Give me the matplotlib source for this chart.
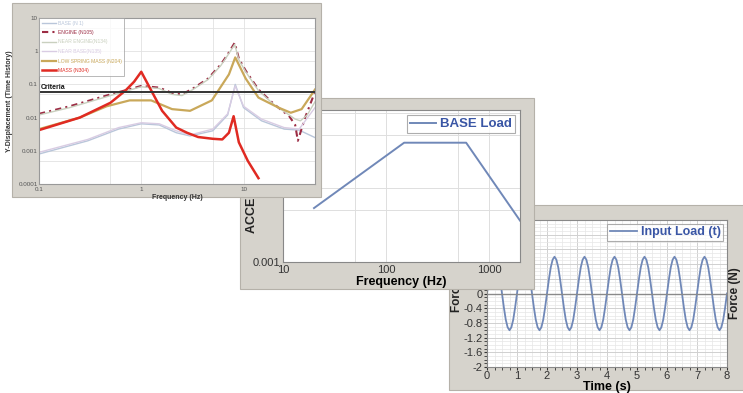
import numpy as np
import matplotlib
matplotlib.use("Agg")
import matplotlib.pyplot as plt
from matplotlib.patches import Rectangle
from matplotlib.ticker import FixedLocator, NullFormatter, FuncFormatter, MultipleLocator

plt.rcParams['font.family'] = ['Liberation Sans', 'DejaVu Sans']

# --- panel 1 : displacement response (log/log) ---
base_f = [0.1, 0.3, 0.6, 1.0, 1.5, 2.2, 3.0, 5.0, 7.0, 8.3, 10, 15, 25, 35, 50]
base_v = [0.0008, 0.002, 0.0045, 0.0065, 0.006, 0.0035, 0.0028, 0.004, 0.012, 0.1, 0.02, 0.008, 0.0045, 0.0042, 0.0025]

engine_f = [0.1, 0.2, 0.5, 1.0, 1.5, 2.0, 2.5, 3.2, 4.5, 6.0, 7.0, 8.2, 9.0, 10.5, 14, 20, 28, 32, 34, 40, 50]
engine_v = [0.013, 0.022, 0.05, 0.09, 0.08, 0.055, 0.05, 0.075, 0.15, 0.4, 0.8, 1.8, 0.6, 0.26, 0.07, 0.025, 0.011, 0.006, 0.002, 0.01, 0.06]

near_engine_f = [0.1, 0.2, 0.5, 1.0, 1.5, 2.0, 2.5, 3.2, 4.5, 6.0, 7.0, 8.2, 9.0, 10.5, 14, 20, 28, 32, 36, 42, 50]
near_engine_v = [0.012, 0.02, 0.046, 0.085, 0.075, 0.05, 0.046, 0.07, 0.14, 0.37, 0.75, 1.6, 0.55, 0.24, 0.065, 0.024, 0.012, 0.009, 0.008, 0.012, 0.03]

near_base_f = [0.1, 0.3, 0.6, 1.0, 1.5, 2.2, 3.0, 5.0, 7.0, 8.3, 10, 15, 25, 35, 50]
near_base_v = [0.0009, 0.0022, 0.005, 0.007, 0.0065, 0.004, 0.003, 0.0045, 0.013, 0.09, 0.022, 0.009, 0.005, 0.0045, 0.02]

spring_f = [0.1, 0.25, 0.46, 0.77, 1.25, 2.0, 3.0, 4.9, 7.2, 8.3, 10.5, 14, 22, 29, 37, 50]
spring_v = [0.0045, 0.01, 0.022, 0.033, 0.033, 0.018, 0.016, 0.033, 0.2, 0.65, 0.15, 0.04, 0.02, 0.014, 0.018, 0.07]

mass_f = [0.1, 0.25, 0.5, 0.7, 0.85, 1.0, 1.25, 1.6, 2.2, 2.8, 3.6, 5.0, 6.2, 7.2, 8.0, 9.0, 11, 14]
mass_v = [0.0042, 0.01, 0.028, 0.065, 0.12, 0.24, 0.066, 0.016, 0.005, 0.0035, 0.0026, 0.0023, 0.0022, 0.0035, 0.011, 0.0018, 0.0005, 0.00015]

criteria = 0.06

# --- panel 2 : base load spectrum ---
load_f = [20, 150, 600, 2000]
load_accel = [0.0053, 0.04, 0.04, 0.0036]

# --- panel 3 : input load time history (1/16 s samples) ---
input_load = [
    0.0, 0.38, 0.71, 0.92, 1.0, 0.92, 0.71, 0.38, 0.0, -0.38, -0.71, -0.92, -1.0, -0.92, -0.71, -0.38,
    0.0, 0.38, 0.71, 0.92, 1.0, 0.92, 0.71, 0.38, 0.0, -0.38, -0.71, -0.92, -1.0, -0.92, -0.71, -0.38,
    0.0, 0.38, 0.71, 0.92, 1.0, 0.92, 0.71, 0.38, 0.0, -0.38, -0.71, -0.92, -1.0, -0.92, -0.71, -0.38,
    0.0, 0.38, 0.71, 0.92, 1.0, 0.92, 0.71, 0.38, 0.0, -0.38, -0.71, -0.92, -1.0, -0.92, -0.71, -0.38,
    0.0, 0.38, 0.71, 0.92, 1.0, 0.92, 0.71, 0.38, 0.0, -0.38, -0.71, -0.92, -1.0, -0.92, -0.71, -0.38,
    0.0, 0.38, 0.71, 0.92, 1.0, 0.92, 0.71, 0.38, 0.0, -0.38, -0.71, -0.92, -1.0, -0.92, -0.71, -0.38,
    0.0, 0.38, 0.71, 0.92, 1.0, 0.92, 0.71, 0.38, 0.0, -0.38, -0.71, -0.92, -1.0, -0.92, -0.71, -0.38,
    0.0, 0.38, 0.71, 0.92, 1.0, 0.92, 0.71, 0.38, 0.0, -0.38, -0.71, -0.92, -1.0, -0.92, -0.71, -0.38,
    0.0,
]
time_s = np.linspace(0, 8, len(input_load))

W, H = 743, 393
fig = plt.figure(figsize=(W / 100, H / 100), dpi=100)
fig.patch.set_facecolor('white')

frame_col = '#d6d3cc'
edge_col = '#b5b1a9'


def px_rect(x0, y0, x1, y1):
    # pixel box (top-left origin) -> figure fraction rect
    return [x0 / W, 1 - y1 / H, (x1 - x0) / W, (y1 - y0) / H]


def add_frame(x0, y0, x1, y1, z):
    l, b, w, h = px_rect(x0, y0, x1, y1)
    r = Rectangle((l, b), w, h, transform=fig.transFigure, facecolor=frame_col,
                  edgecolor=edge_col, linewidth=0.8, zorder=z)
    fig.add_artist(r)


def fmt_num(v, pos):
    v = round(v, 6)
    if v == 0:
        return '0'
    return '%g' % v


def fmt_neg(v, pos):
    # labels above zero sit under the middle panel anyway
    v = round(v, 6)
    if v > 0:
        return ''
    return fmt_num(v, pos)


fmt_g = FuncFormatter(fmt_num)

# ================= panel 3 (bottom layer) =================
add_frame(449, 205, 760, 390, 1)
ax3 = fig.add_axes(px_rect(487, 220, 727, 367))
ax3.set_zorder(2)
ax3.plot(time_s, input_load, color='#7088b8', lw=1.3, label='Input Load (t)')
ax3.set_xlim(0, 8)
ax3.set_ylim(-2, 2)
ax3.xaxis.set_major_locator(MultipleLocator(1))
ax3.xaxis.set_minor_locator(MultipleLocator(0.25))
ax3.yaxis.set_major_locator(MultipleLocator(0.4))
ax3.yaxis.set_minor_locator(MultipleLocator(0.1))
ax3.yaxis.set_major_formatter(FuncFormatter(fmt_neg))
ax3.grid(which='major', color='#d0d0d0', lw=0.7)
ax3.grid(which='minor', color='#e6e6e6', lw=0.5)
ax3.axhline(0, color='#8a8a8a', lw=1.0)
ax3.tick_params(which='both', length=2, labelsize=8, pad=1, colors='#333333')
ax3.set_xlabel('Time (s)', fontsize=9, fontweight='bold', labelpad=0)
for s in ax3.spines.values():
    s.set_color('#888888')
leg3 = ax3.legend(loc='upper right', frameon=True, fancybox=False,
                  handlelength=2.2, handletextpad=0.3, borderpad=0.2,
                  borderaxespad=0.3, prop={'weight': 'bold', 'size': 9})
leg3.get_frame().set_edgecolor('#999999')
leg3.get_frame().set_linewidth(0.8)
for t in leg3.get_texts():
    t.set_color('#3a56a5')
fig.text(457 / W, 1 - 312 / H, 'Force (N)', rotation=90, ha='center', va='bottom',
         fontsize=8.5, fontweight='bold', color='#222222', zorder=2)
fig.text(735 / W, 1 - 293 / H, 'Force (N)', rotation=90, ha='center', va='center',
         fontsize=8.5, fontweight='bold', color='#222222', zorder=2)

# ================= panel 2 (middle layer) =================
add_frame(240, 98, 534, 289, 3)
ax2 = fig.add_axes(px_rect(283, 110, 520, 262))
ax2.set_zorder(4)
ax2.plot(load_f, load_accel, color='#7088b8', lw=1.4, label='BASE Load')
ax2.set_xscale('log')
ax2.set_yscale('log')
ax2.set_xlim(10, 2000)
ax2.set_ylim(0.001, 0.11)
ax2.xaxis.set_major_locator(FixedLocator([10, 100, 1000]))
ax2.xaxis.set_minor_locator(FixedLocator([50, 500]))
ax2.xaxis.set_major_formatter(fmt_g)
ax2.xaxis.set_minor_formatter(NullFormatter())
ax2.yaxis.set_major_locator(FixedLocator([0.001, 0.01, 0.1]))
ax2.yaxis.set_minor_locator(FixedLocator([0.005, 0.05]))
ax2.yaxis.set_major_formatter(fmt_g)
ax2.yaxis.set_minor_formatter(NullFormatter())
ax2.grid(which='both', color='#dedede', lw=0.7)
ax2.tick_params(which='both', length=0, labelsize=8, pad=2, colors='#333333')
ax2.set_xlabel('Frequency (Hz)', fontsize=9, fontweight='bold', labelpad=1)
for s in ax2.spines.values():
    s.set_color('#888888')
leg2 = ax2.legend(loc='upper right', frameon=True, fancybox=False,
                  handlelength=2.0, handletextpad=0.3, borderpad=0.2,
                  borderaxespad=0.4, prop={'weight': 'bold', 'size': 9.5})
leg2.get_frame().set_edgecolor('#999999')
leg2.get_frame().set_linewidth(0.8)
for t in leg2.get_texts():
    t.set_color('#3a56a5')
fig.text(252 / W, 1 - 233 / H, 'ACCELERATION (G^2/Hz)', rotation=90, ha='center',
         va='bottom', fontsize=9, fontweight='bold', color='#222222', zorder=4)

# ================= panel 1 (top layer) =================
add_frame(12, 3, 321, 197, 5)
ax1 = fig.add_axes(px_rect(39, 18, 315, 184))
ax1.set_zorder(6)
ax1.plot(base_f, base_v, color='#b9c6da', lw=1.0, label='BASE (N 1)')
ax1.plot(engine_f, engine_v, color='#9c2c44', lw=1.5, dashes=(3, 2, 1, 2),
         label='ENGINE (N105)')
ax1.plot(near_engine_f, near_engine_v, color='#c9d0bf', lw=1.0, label='NEAR ENGINE(N134)')
ax1.plot(near_base_f, near_base_v, color='#d9cce3', lw=1.0, label='NEAR BASE(N135)')
ax1.plot(spring_f, spring_v, color='#c9a85a', lw=1.6, label='LOW SPRING MASS (N204)')
ax1.plot(mass_f, mass_v, color='#e02a22', lw=1.8, label='MASS (N304)')
ax1.axhline(criteria, color='#333333', lw=1.4)
ax1.text(0.105, criteria * 1.25, 'Criteria', fontsize=5, fontweight='bold', color='#111111')
ax1.set_xscale('log')
ax1.set_yscale('log')
ax1.set_xlim(0.1, 50)
ax1.set_ylim(0.0001, 10)
ax1.xaxis.set_major_locator(FixedLocator([0.1, 1, 10]))
ax1.xaxis.set_minor_locator(FixedLocator([0.5, 5]))
ax1.xaxis.set_major_formatter(fmt_g)
ax1.xaxis.set_minor_formatter(NullFormatter())
ax1.yaxis.set_major_locator(FixedLocator([0.0001, 0.001, 0.01, 0.1, 1, 10]))
ax1.yaxis.set_minor_locator(FixedLocator([0.0005, 0.005, 0.05, 0.5, 5]))
ax1.yaxis.set_major_formatter(fmt_g)
ax1.yaxis.set_minor_formatter(NullFormatter())
ax1.grid(which='both', color='#e2e2e2', lw=0.6)
ax1.tick_params(which='both', length=0, labelsize=4.5, pad=1, colors='#555555')
ax1.tick_params(axis='x', pad=2.5)
ax1.set_xlabel('Frequency (Hz)', fontsize=5, fontweight='bold', labelpad=1, color='#333333')
ax1.set_ylabel('Y-Displacement (Time History)', fontsize=5, fontweight='bold', labelpad=4,
               color='#333333')
for s in ax1.spines.values():
    s.set_color('#999999')
leg1 = ax1.legend(loc='upper left', fontsize=3.6, frameon=True, fancybox=False,
                  handlelength=2.8, handletextpad=0.4, borderpad=0.5, labelspacing=0.9,
                  borderaxespad=0.0)
leg1.get_frame().set_edgecolor('#999999')
leg1.get_frame().set_linewidth(0.6)
for t, ln in zip(leg1.get_texts(), leg1.get_lines()):
    t.set_color(ln.get_color())

fig.savefig('out.png', dpi=100, facecolor='white')
